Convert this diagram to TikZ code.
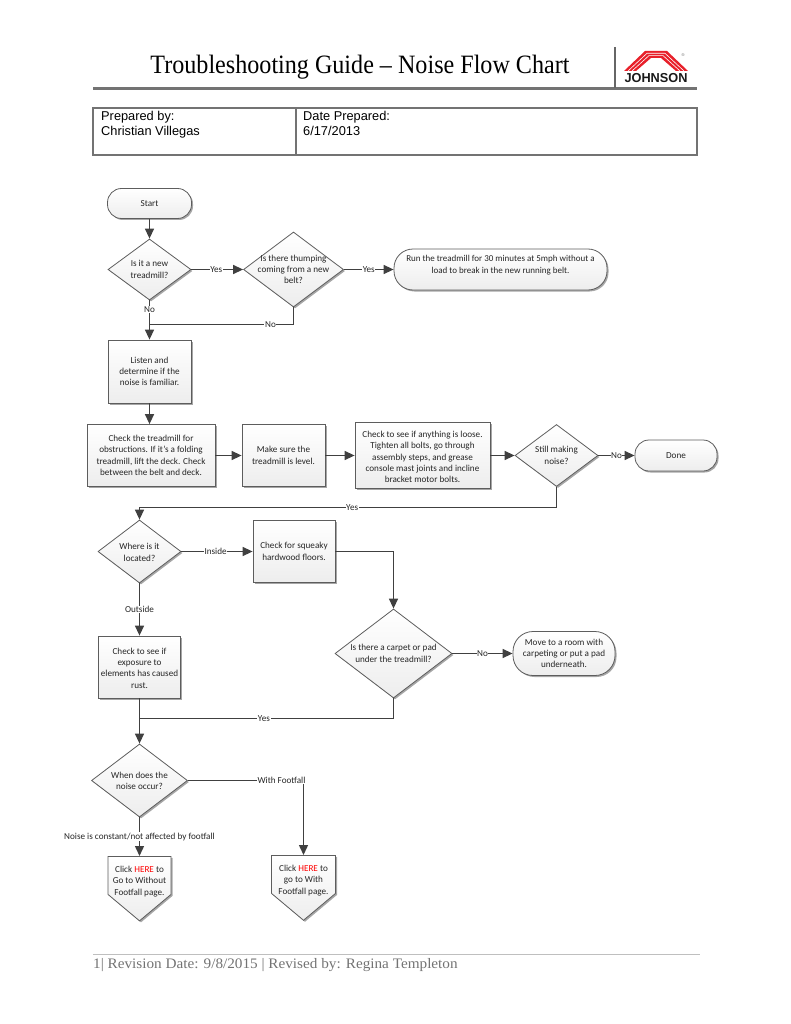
\documentclass[tikz,border=0pt]{standalone}
\usepackage{fontspec}
\setmainfont{Carlito}
\newfontfamily\titlefont{Liberation Serif}
\newfontfamily\hdrfont{Liberation Sans}
\usetikzlibrary{shapes.geometric,shapes.misc,shapes.symbols,shadows,arrows.meta}
\definecolor{ln}{HTML}{404040}
\definecolor{jred}{HTML}{E8202A}
\newcommand{\fsz}{\fontsize{9.15}{11.3}\selectfont}
\tikzset{
  base/.style={draw=ln!85,line width=0.8pt,top color=white,bottom color=black!7,
    drop shadow={shadow xshift=1.5pt,shadow yshift=-1.5pt,fill=black!35,opacity=1},
    inner sep=0pt,font=\fsz,text=black!85},
  box/.style={base,rectangle,align=center},
  term/.style={base,rectangle,align=center},
  dec/.style={base,diamond},
  off/.style={base,signal,signal to=south,signal from=nowhere,signal pointer angle=100},
  ctext/.style={align=center,font=\fsz,text=black!85},
  conn/.style={draw=ln,line width=1.4pt},
  flow/.style={conn,-{Triangle[length=10pt,width=9pt]}},
  lab/.style={fill=white,inner sep=0.6pt,font=\fsz,text=black!85},
  hdr/.style={font=\hdrfont\fontsize{12.8}{15}\selectfont,align=left,anchor=north west,inner sep=0pt},
  tcell/.style={draw=black!55,line width=2pt,inner sep=0pt},
}
\newcommand{\here}{\textcolor{red}{HERE}}
\begin{document}
\begin{tikzpicture}[x=1pt,y=-1pt]
\useasboundingbox (0,0) rectangle (791,1024);
% header
\node[font=\titlefont\fontsize{26.5}{30}\selectfont,inner sep=0pt] (title) at (360,67) {\scalebox{0.91}[1]{Troubleshooting Guide – Noise Flow Chart}};
\coordinate (ruleL) at (93,88.5); \coordinate (ruleR) at (697,88.5);
\draw[black!55,line width=2.4pt] (ruleL) -- (ruleR);
\coordinate (vtop) at (615,47); \coordinate (vbot) at (615,88);
\draw[black!60,line width=1.2pt] (vtop) -- (vbot);
% logo
\fill[jred] (624,71) -- (645,51) -- (667,51) -- (688,71) -- (676,71) -- (661,58) -- (651,58) -- (636,71) -- cycle;
\draw[white,line width=0.6pt] (628,71) -- (647,53.3) -- (665,53.3) -- (684,71);
\draw[white,line width=0.6pt] (632,71) -- (649,55.6) -- (663,55.6) -- (680,71);
\node[font=\hdrfont\bfseries\fontsize{13}{13}\selectfont,inner sep=0pt,text=black!90] (logo) at (656,78.5) {\scalebox{0.98}[1]{JOHNSON}};
\node[font=\hdrfont\fontsize{4}{4}\selectfont,inner sep=0pt,text=black!60] (reg) at (683,55) {®};
% table
\node[tcell,minimum width=203pt,minimum height=47pt] (tabA) at (194.5,132) {};
\node[tcell,minimum width=401pt,minimum height=47pt] (tabB) at (496.5,132) {};
\node[hdr] (prep) at (101,111.5) {Prepared by:\\Christian Villegas};
\node[hdr] (date) at (303,111.5) {Date Prepared:\\6/17/2013};
% shapes
\node[term,rounded corners=14pt,minimum width=84pt,minimum height=30pt] (start) at (149.5,203.5) {Start};
\node[dec,minimum width=83pt,minimum height=61pt,shape aspect=1.36,label={[ctext]center:Is it a new\\treadmill?}] (d1) at (149.5,269.5) {};
\node[dec,minimum width=100pt,minimum height=75pt,shape aspect=1.33,label={[ctext]center:Is there thumping\\coming from a new\\belt?}] (d2) at (293.5,269.5) {};
\node[term,rounded corners=19pt,minimum width=213pt,minimum height=41pt,label={[ctext,font=\fontsize{9}{11.5}\selectfont,yshift=4.5pt]center:Run the treadmill for 30 minutes at 5mph without a\\load to break in the new running belt.}] (run) at (500.5,269.5) {};
\node[box,minimum width=83pt,minimum height=63pt] (listen) at (149.5,371.5) {Listen and\\determine if the\\noise is familiar.};
\node[box,minimum width=128pt,minimum height=62pt] (obstr) at (151,455.5) {Check the treadmill for\\obstructions. If it’s a folding\\treadmill, lift the deck. Check\\between the belt and deck.};
\node[box,minimum width=83pt,minimum height=62pt] (level) at (283.5,455.5) {Make sure the\\treadmill is level.};
\node[box,minimum width=135pt,minimum height=66pt,label={[ctext,yshift=-1.5pt]center:Check to see if anything is loose.\\Tighten all bolts, go through\\assembly steps, and grease\\console mast joints and incline\\bracket motor bolts.}] (loose) at (422.5,455.5) {};
\node[dec,minimum width=83pt,minimum height=62pt,shape aspect=1.34,label={[ctext]center:Still making\\noise?}] (still) at (556.5,455.5) {};
\node[term,rounded corners=14pt,minimum width=82pt,minimum height=31pt] (done) at (676,455.5) {Done};
\node[dec,minimum width=83pt,minimum height=63pt,shape aspect=1.32,label={[ctext,yshift=-1pt]center:Where is it\\located?}] (where) at (139.5,551.5) {};
\node[box,minimum width=82pt,minimum height=62pt] (squeak) at (294,551.5) {Check for squeaky\\hardwood floors.};
\node[dec,minimum width=117pt,minimum height=89pt,shape aspect=1.31,label={[ctext]center:Is there a carpet or pad\\under the treadmill?}] (carpet) at (393.5,653.5) {};
\node[term,rounded corners=20pt,minimum width=102pt,minimum height=44pt] (move) at (564,653.5) {Move to a room with\\carpeting or put a pad\\underneath.};
\node[box,minimum width=82pt,minimum height=62pt,label={[ctext,yshift=-1pt]center:Check to see if\\exposure to\\elements has caused\\rust.}] (rust) at (139.5,667) {};
\node[dec,minimum width=96pt,minimum height=73pt,shape aspect=1.31,label={[ctext]center:When does the\\noise occur?}] (when) at (139.5,780.5) {};
\node[off,anchor=north,minimum width=63pt,minimum height=38pt,label={[ctext,yshift=-6pt]center:Click \here{} to\\Go to Without\\Footfall page.}] (offa) at (139.5,856) {};
\node[off,anchor=north,minimum width=64pt,minimum height=38pt,label={[ctext,yshift=-6pt]center:Click \here{} to\\go to With\\Footfall page.}] (offb) at (303.5,855) {};
% connectors
\draw[flow] (start) -- (d1);
\draw[flow] (d1) -- node[lab,pos=.48] {Yes} (d2);
\draw[flow] (d2) -- node[lab,pos=.5] {Yes} (run);
\coordinate (j1) at (listen.north |- 0,324.5);
\draw[flow] (d1) -- node[lab,pos=.225] {No} (listen);
\draw[conn] (d2.south) |- node[lab,pos=.58] {No} (j1);
\draw[flow] (listen) -- (obstr.north -| listen.south);
\draw[flow] (obstr) -- (level);
\draw[flow] (level) -- (loose.west |- level.east);
\draw[flow] (loose) -- (still);
\draw[flow] (still) -- node[lab] {No} (done);
\coordinate (j2) at (where.north |- 0,507.5);
\draw[flow] (still.south) |- node[lab,pos=.745] {Yes} (j2) -- (where.north);
\draw[flow] (where) -- node[lab,pos=.48] {Inside} (squeak.west |- where.east);
\draw[flow] (where) -- node[lab] {Outside} (rust.north -| where.south);
\draw[flow] (squeak.east |- where.east) -| (carpet.north);
\draw[flow] (carpet) -- node[lab,pos=.5] {No} (move);
\coordinate (j3) at (rust.south |- 0,718.5);
\draw[flow] (rust) -- (when);
\draw[conn] (carpet.south) |- node[lab,pos=.755] {Yes} (j3);
\draw[flow] (when.south) -- node[lab,pos=.5] {Noise is constant/not affected by footfall} (offa.north -| when.south);
\draw[flow] (when.east) -| (offb.north);
\node[lab] (wf) at (281.5,780) {With Footfall};
% footer
\coordinate (fL) at (93,954); \coordinate (fR) at (700,954);
\draw[black!25,line width=0.8pt] (fL) -- (fR);
\node[font=\titlefont\fontsize{14.5}{16}\selectfont,text=black!55,anchor=west,inner sep=0pt] (foot) at (93,965) {\scalebox{1.05}[1]{1| Revision Date: 9/8/2015 | Revised by: Regina Templeton}};
\end{tikzpicture}
\end{document}
